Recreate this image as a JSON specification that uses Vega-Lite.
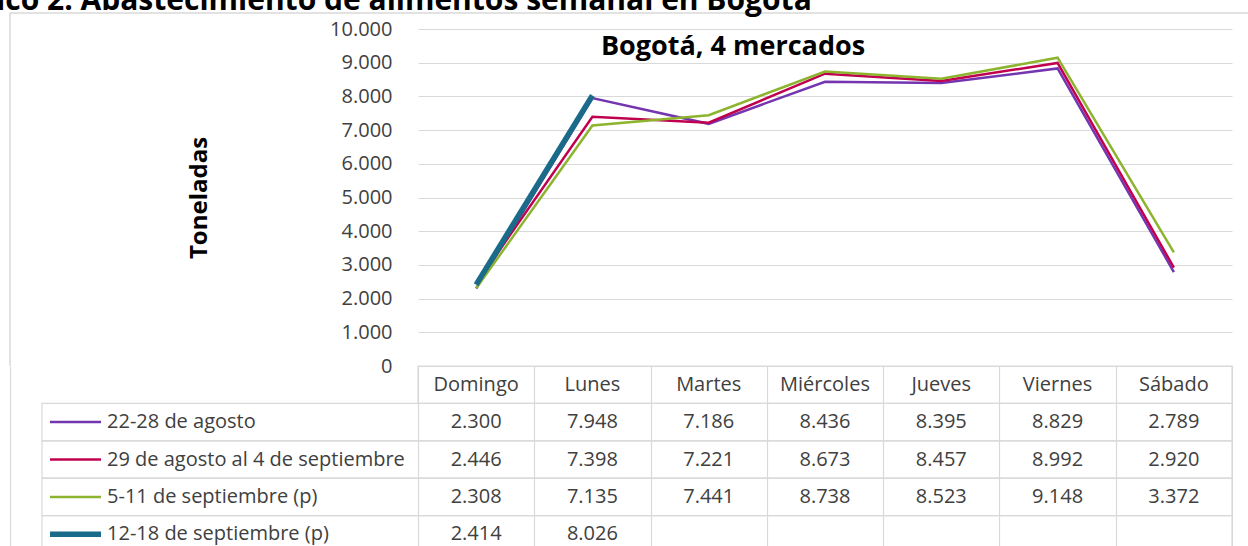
{
  "$schema": "https://vega.github.io/schema/vega-lite/v6.json",
  "padding": {"left": -69, "top": -14, "right": 0, "bottom": 0},
  "background": "white",
  "bounds": "flush",
  "config": {
    "locale": {"number": {"decimal": ",", "thousands": ".", "grouping": [3], "currency": ["$", ""]}},
    "view": {"stroke": null},
    "font": "Open Sans"
  },
  "title": {
    "text": "Gráfico 2. Abastecimiento de alimentos semanal en Bogotá",
    "anchor": "start",
    "frame": "group",
    "fontSize": 30,
    "font": "Open Sans",
    "fontWeight": "bold",
    "color": "#000000",
    "dx": -79,
    "offset": -4
  },
  "datasets": {
    "abasto": [
      {"serie": "22-28 de agosto", "dia": "Domingo", "orden": 1, "valor": 2300},
      {"serie": "22-28 de agosto", "dia": "Lunes", "orden": 2, "valor": 7948},
      {"serie": "22-28 de agosto", "dia": "Martes", "orden": 3, "valor": 7186},
      {"serie": "22-28 de agosto", "dia": "Miércoles", "orden": 4, "valor": 8436},
      {"serie": "22-28 de agosto", "dia": "Jueves", "orden": 5, "valor": 8395},
      {"serie": "22-28 de agosto", "dia": "Viernes", "orden": 6, "valor": 8829},
      {"serie": "22-28 de agosto", "dia": "Sábado", "orden": 7, "valor": 2789},
      {"serie": "29 de agosto al 4 de septiembre", "dia": "Domingo", "orden": 1, "valor": 2446},
      {"serie": "29 de agosto al 4 de septiembre", "dia": "Lunes", "orden": 2, "valor": 7398},
      {"serie": "29 de agosto al 4 de septiembre", "dia": "Martes", "orden": 3, "valor": 7221},
      {"serie": "29 de agosto al 4 de septiembre", "dia": "Miércoles", "orden": 4, "valor": 8673},
      {"serie": "29 de agosto al 4 de septiembre", "dia": "Jueves", "orden": 5, "valor": 8457},
      {"serie": "29 de agosto al 4 de septiembre", "dia": "Viernes", "orden": 6, "valor": 8992},
      {"serie": "29 de agosto al 4 de septiembre", "dia": "Sábado", "orden": 7, "valor": 2920},
      {"serie": "5-11 de septiembre (p)", "dia": "Domingo", "orden": 1, "valor": 2308},
      {"serie": "5-11 de septiembre (p)", "dia": "Lunes", "orden": 2, "valor": 7135},
      {"serie": "5-11 de septiembre (p)", "dia": "Martes", "orden": 3, "valor": 7441},
      {"serie": "5-11 de septiembre (p)", "dia": "Miércoles", "orden": 4, "valor": 8738},
      {"serie": "5-11 de septiembre (p)", "dia": "Jueves", "orden": 5, "valor": 8523},
      {"serie": "5-11 de septiembre (p)", "dia": "Viernes", "orden": 6, "valor": 9148},
      {"serie": "5-11 de septiembre (p)", "dia": "Sábado", "orden": 7, "valor": 3372},
      {"serie": "12-18 de septiembre (p)", "dia": "Domingo", "orden": 1, "valor": 2414},
      {"serie": "12-18 de septiembre (p)", "dia": "Lunes", "orden": 2, "valor": 8026}
    ]
  },
  "spacing": 0,
  "resolve": {"scale": {"x": "independent", "y": "independent"}},
  "vconcat": [
    {
      "width": 1238,
      "height": 337,
      "data": {"name": "abasto"},
      "layer": [
        {
          "transform": [{"filter": "datum.orden == 1 && datum.serie == '22-28 de agosto'"}],
          "mark": {"type": "rule", "color": "#D9D9D9", "strokeWidth": 1.5},
          "encoding": {
            "x": {"datum": -3.0086, "type": "quantitative", "scale": {"domain": [0.5, 7.5], "range": [408, 1222], "nice": false, "zero": false}, "axis": null},
            "x2": {"datum": 7.6376},
            "y": {"datum": 10475, "type": "quantitative", "scale": {"domain": [0, 10000], "nice": false, "zero": false}}
          }
        },
        {
          "transform": [{"filter": "datum.orden == 1 && datum.serie == '22-28 de agosto'"}],
          "mark": {"type": "rule", "color": "#D9D9D9", "strokeWidth": 1.5},
          "encoding": {
            "x": {"datum": -3.0086, "type": "quantitative", "scale": {"domain": [0.5, 7.5], "range": [408, 1222], "nice": false, "zero": false}, "axis": null},
            "y": {"datum": 0, "type": "quantitative", "scale": {"domain": [0, 10000], "nice": false, "zero": false}},
            "y2": {"datum": 10475}
          }
        },
        {
          "mark": {"type": "line"},
          "encoding": {
            "x": {"field": "orden", "type": "quantitative", "scale": {"domain": [0.5, 7.5], "range": [408, 1222], "nice": false, "zero": false}, "axis": null},
            "y": {
              "field": "valor",
              "type": "quantitative",
              "scale": {"domain": [0, 10000], "nice": false, "zero": false},
              "axis": {
                "values": [0, 1000, 2000, 3000, 4000, 5000, 6000, 7000, 8000, 9000, 10000],
                "tickCount": 40,
                "labelOverlap": false,
                "format": ",d",
                "grid": true,
                "gridColor": "#D9D9D9",
                "gridWidth": 1.2,
                "domain": false,
                "ticks": false,
                "offset": -408,
                "labelPadding": 26,
                "labelFont": "Open Sans",
                "labelFontSize": 20,
                "labelColor": "#404040",
                "title": "Toneladas",
                "titleFont": "Open Sans",
                "titleFontSize": 24,
                "titleFontWeight": "bold",
                "titleColor": "#000000",
                "titlePadding": 118
              }
            },
            "color": {
              "field": "serie",
              "type": "nominal",
              "scale": {"domain": ["22-28 de agosto", "29 de agosto al 4 de septiembre", "5-11 de septiembre (p)", "12-18 de septiembre (p)"], "range": ["#7435B0", "#C0004E", "#8DB42E", "#1A6A8A"]},
              "legend": null
            },
            "strokeWidth": {
              "field": "serie",
              "type": "ordinal",
              "scale": {"type": "ordinal", "domain": ["22-28 de agosto", "29 de agosto al 4 de septiembre", "5-11 de septiembre (p)", "12-18 de septiembre (p)"], "range": [2.5, 2.5, 2.5, 5.5]},
              "legend": null
            }
          }
        },
        {
          "data": {"values": [{"t": "Bogotá, 4 mercados"}]},
          "mark": {"type": "text", "font": "Open Sans", "fontSize": 27, "fontWeight": "bold", "color": "#000000", "align": "center", "baseline": "middle"},
          "encoding": {
            "x": {"datum": 3.209, "type": "quantitative", "scale": {"domain": [0.5, 7.5], "range": [408, 1222], "nice": false, "zero": false}},
            "y": {"datum": 9466, "type": "quantitative", "scale": {"domain": [0, 10000], "nice": false, "zero": false}},
            "text": {"field": "t"}
          }
        }
      ]
    },
    {
      "width": 1238,
      "height": 187,
      "data": {"name": "abasto"},
      "layer": [
        {
          "transform": [{"filter": "datum.orden == 1"}],
          "mark": {"type": "rect", "fill": "transparent", "stroke": "#D9D9D9", "strokeWidth": 1.2},
          "encoding": {
            "x": {
              "datum": -2.7334,
              "type": "quantitative",
              "scale": {"domain": [-3.0086, 7.6376], "nice": false, "zero": false},
              "axis": {"values": [-3.0086, 0.5, 1.5, 2.5, 3.5, 4.5, 5.5, 6.5, 7.5], "tickCount": 40, "grid": true, "gridColor": "#D9D9D9", "gridWidth": 1.2, "labels": false, "ticks": false, "domain": false, "title": null}
            },
            "x2": {"datum": 7.5},
            "y": {"field": "serie", "type": "nominal", "scale": {"domain": ["_h", "22-28 de agosto", "29 de agosto al 4 de septiembre", "5-11 de septiembre (p)", "12-18 de septiembre (p)"], "paddingInner": 0, "paddingOuter": 0}, "axis": null}
          }
        },
        {
          "transform": [{"filter": "datum.orden == 1 && datum.serie == '22-28 de agosto'"}],
          "mark": {"type": "rect", "fill": "transparent", "stroke": "#D9D9D9", "strokeWidth": 1.2},
          "encoding": {
            "x": {"datum": 0.5, "type": "quantitative", "scale": {"domain": [-3.0086, 7.6376], "nice": false, "zero": false}},
            "x2": {"datum": 7.5},
            "y": {"datum": "_h", "type": "nominal", "scale": {"domain": ["_h", "22-28 de agosto", "29 de agosto al 4 de septiembre", "5-11 de septiembre (p)", "12-18 de septiembre (p)"], "paddingInner": 0, "paddingOuter": 0}}
          }
        },
        {
          "transform": [{"filter": "datum.serie == '22-28 de agosto'"}],
          "mark": {"type": "text", "font": "Open Sans", "fontSize": 20, "color": "#404040", "align": "center", "baseline": "middle"},
          "encoding": {
            "x": {"field": "orden", "type": "quantitative", "scale": {"domain": [-3.0086, 7.6376], "nice": false, "zero": false}},
            "y": {"datum": "_h", "type": "nominal", "scale": {"domain": ["_h", "22-28 de agosto", "29 de agosto al 4 de septiembre", "5-11 de septiembre (p)", "12-18 de septiembre (p)"], "paddingInner": 0, "paddingOuter": 0}},
            "text": {"field": "dia"}
          }
        },
        {
          "mark": {"type": "text", "font": "Open Sans", "fontSize": 20, "color": "#404040", "align": "center", "baseline": "middle"},
          "encoding": {
            "x": {"field": "orden", "type": "quantitative", "scale": {"domain": [-3.0086, 7.6376], "nice": false, "zero": false}},
            "y": {"field": "serie", "type": "nominal", "scale": {"domain": ["_h", "22-28 de agosto", "29 de agosto al 4 de septiembre", "5-11 de septiembre (p)", "12-18 de septiembre (p)"], "paddingInner": 0, "paddingOuter": 0}},
            "text": {"field": "valor", "type": "quantitative", "format": ",d"}
          }
        },
        {
          "transform": [{"filter": "datum.orden == 1"}],
          "mark": {"type": "rule"},
          "encoding": {
            "x": {"datum": -2.6646, "type": "quantitative", "scale": {"domain": [-3.0086, 7.6376], "nice": false, "zero": false}},
            "x2": {"datum": -2.226},
            "y": {"field": "serie", "type": "nominal", "scale": {"domain": ["_h", "22-28 de agosto", "29 de agosto al 4 de septiembre", "5-11 de septiembre (p)", "12-18 de septiembre (p)"], "paddingInner": 0, "paddingOuter": 0}},
            "color": {
              "field": "serie",
              "type": "nominal",
              "scale": {"domain": ["22-28 de agosto", "29 de agosto al 4 de septiembre", "5-11 de septiembre (p)", "12-18 de septiembre (p)"], "range": ["#7435B0", "#C0004E", "#8DB42E", "#1A6A8A"]},
              "legend": null
            },
            "strokeWidth": {
              "field": "serie",
              "type": "ordinal",
              "scale": {"type": "ordinal", "domain": ["22-28 de agosto", "29 de agosto al 4 de septiembre", "5-11 de septiembre (p)", "12-18 de septiembre (p)"], "range": [2.5, 2.5, 2.5, 5.5]},
              "legend": null
            }
          }
        },
        {
          "transform": [{"filter": "datum.orden == 1"}],
          "mark": {"type": "text", "font": "Open Sans", "fontSize": 20, "color": "#404040", "align": "left", "baseline": "middle"},
          "encoding": {
            "x": {"datum": -2.1744, "type": "quantitative", "scale": {"domain": [-3.0086, 7.6376], "nice": false, "zero": false}},
            "y": {"field": "serie", "type": "nominal", "scale": {"domain": ["_h", "22-28 de agosto", "29 de agosto al 4 de septiembre", "5-11 de septiembre (p)", "12-18 de septiembre (p)"], "paddingInner": 0, "paddingOuter": 0}},
            "text": {"field": "serie"}
          }
        }
      ]
    }
  ]
}
